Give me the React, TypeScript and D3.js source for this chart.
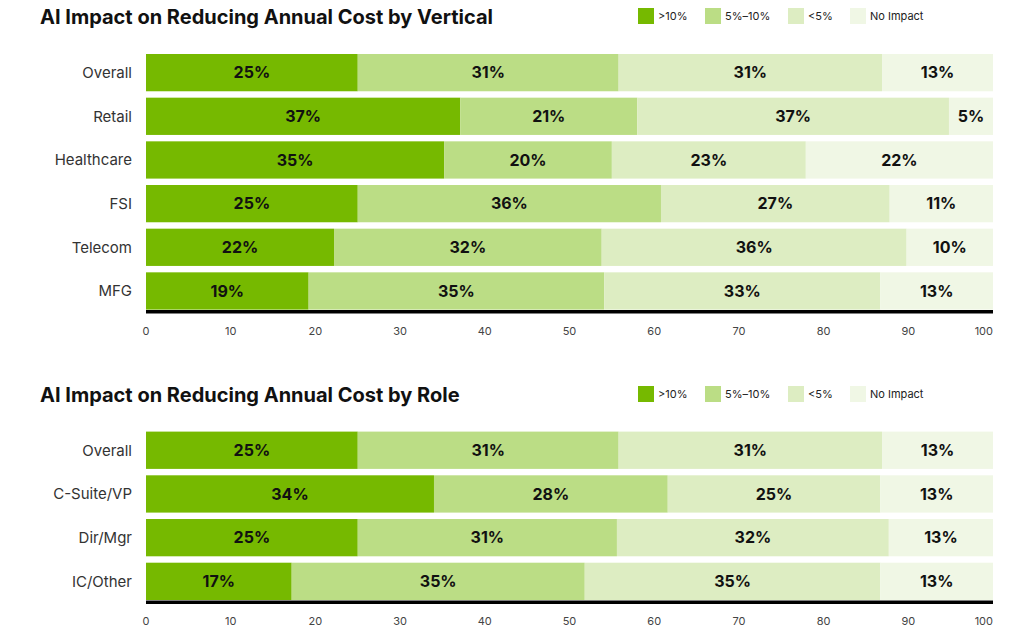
import React from "react";
import * as d3 from "d3";

const seriesNames = [">10%", "5%–10%", "<5%", "No Impact"];
const seriesColors = ["#76b900", "#bbdd85", "#ddedc2", "#f0f7e5"];

const verticalCategories = ["Overall", "Retail", "Healthcare", "FSI", "Telecom", "MFG"];
const verticalOver10 = [25.0, 37.1, 35.2, 25.0, 22.2, 19.2];
const vertical5to10 = [30.8, 20.9, 19.8, 35.8, 31.6, 34.9];
const verticalUnder5 = [31.1, 36.8, 22.9, 27.0, 36.0, 32.6];
const verticalNone = [13.1, 5.2, 22.1, 12.2, 10.2, 13.3];
const verticalLabels = [
  [25, 31, 31, 13],
  [37, 21, 37, 5],
  [35, 20, 23, 22],
  [25, 36, 27, 11],
  [22, 32, 36, 10],
  [19, 35, 33, 13],
];

const roleCategories = ["Overall", "C-Suite/VP", "Dir/Mgr", "IC/Other"];
const roleOver10 = [25.0, 34.0, 25.0, 17.2];
const role5to10 = [30.8, 27.6, 30.6, 34.6];
const roleUnder5 = [31.1, 25.1, 32.1, 34.9];
const roleNone = [13.1, 13.3, 12.3, 13.3];
const roleLabels = [
  [25, 31, 31, 13],
  [34, 28, 25, 13],
  [25, 31, 32, 13],
  [17, 35, 35, 13],
];

const tickValues = [0, 10, 20, 30, 40, 50, 60, 70, 80, 90, 100];

const FONT = "Inter, 'DejaVu Sans', sans-serif";

type PanelProps = {
  title: string;
  categories: string[];
  series: number[][];
  labels: number[][];
  top: number;
  barTop: number;
  barBottom: number;
};

function Panel({ title, categories, series, labels, top, barTop, barBottom }: PanelProps) {
  const x = d3.scaleLinear().domain([0, 100]).range([146, 993]);
  const n = categories.length;
  const gap = 6.4;
  const step = (barBottom - barTop + gap) / n;
  const y = d3
    .scaleBand<string>()
    .domain(categories)
    .range([barTop, barBottom])
    .paddingInner(gap / step)
    .paddingOuter(0)
    .align(0);

  const rows = categories.map((c, i) => {
    const vals = series.map((s) => s[i]);
    const ends = d3.cumsum(vals);
    return vals.map((v, k) => ({ start: ends[k] - v, end: ends[k], k, label: labels[i][k] }));
  });

  const legendX = [638, 705, 788, 850];
  const axisY = barBottom + 2.2;

  return (
    <g>
      <text x={40} y={top + 24} fontFamily={FONT} fontWeight={700} fontSize={20} fill="#111">
        {title}
      </text>
      {seriesNames.map((name, k) => (
        <g key={name}>
          <rect x={legendX[k]} y={top + 8} width={16} height={16} fill={seriesColors[k]} />
          <text x={legendX[k] + 20} y={top + 20} fontFamily={FONT} fontSize={11} fill="#222">
            {name}
          </text>
        </g>
      ))}
      {categories.map((c, i) => (
        <g key={c}>
          <text
            x={132}
            y={(y(c) as number) + y.bandwidth() / 2}
            dy="0.35em"
            textAnchor="end"
            fontFamily={FONT}
            fontSize={15}
            fill="#333"
          >
            {c}
          </text>
          {rows[i].map((seg) => (
            <rect
              key={seg.k}
              x={x(seg.start)}
              y={y(c)}
              width={x(seg.end) - x(seg.start)}
              height={y.bandwidth()}
              fill={seriesColors[seg.k]}
            />
          ))}
          {rows[i].map((seg) => (
            <text
              key={"t" + seg.k}
              x={(x(seg.start) + x(seg.end)) / 2}
              y={(y(c) as number) + y.bandwidth() / 2}
              dy="0.36em"
              textAnchor="middle"
              fontFamily={FONT}
              fontWeight={700}
              fontSize={16}
              fill="#111"
            >
              {seg.label}%
            </text>
          ))}
        </g>
      ))}
      <line x1={x(0)} x2={x(100)} y1={axisY} y2={axisY} stroke="#000" strokeWidth={3.5} />
      {tickValues.map((t) => (
        <text
          key={t}
          x={x(t)}
          y={axisY + 19}
          dy="0.35em"
          textAnchor={t === 100 ? "end" : "middle"}
          fontFamily={FONT}
          fontSize={11}
          fill="#444"
        >
          {t}
        </text>
      ))}
    </g>
  );
}

export default function App() {
  return (
    <svg
      width={1012}
      height={641}
      style={{ position: "absolute", left: 0, top: 0, background: "#fff" }}
    >
      <rect width={1012} height={641} fill="#fff" />
      <Panel
        title="AI Impact on Reducing Annual Cost by Vertical"
        categories={verticalCategories}
        series={[verticalOver10, vertical5to10, verticalUnder5, verticalNone]}
        labels={verticalLabels}
        top={0}
        barTop={54}
        barBottom={309.6}
      />
      <Panel
        title="AI Impact on Reducing Annual Cost by Role"
        categories={roleCategories}
        series={[roleOver10, role5to10, roleUnder5, roleNone]}
        labels={roleLabels}
        top={378}
        barTop={431.6}
        barBottom={600}
      />
    </svg>
  );
}
